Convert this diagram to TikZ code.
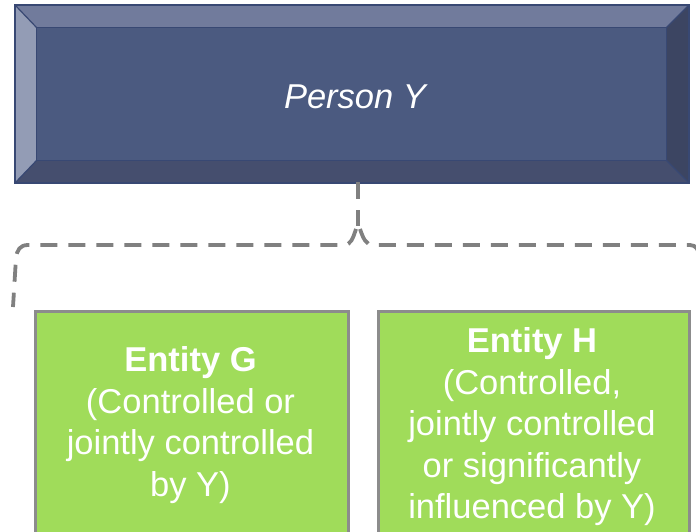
\documentclass[tikz,border=0pt]{standalone}
\usepackage{fontspec}
\setmainfont{Liberation Sans}
\definecolor{facecol}{RGB}{75,90,128}
\definecolor{bevtop}{RGB}{113,123,156}
\definecolor{bevleft}{RGB}{147,156,181}
\definecolor{bevbottom}{RGB}{69,78,110}
\definecolor{bevright}{RGB}{60,69,98}
\definecolor{bevline}{RGB}{56,72,115}
\definecolor{entgreen}{RGB}{160,220,90}
\definecolor{entborder}{RGB}{140,140,140}
\definecolor{conngray}{RGB}{128,128,128}
\begin{document}
\begin{tikzpicture}[x=1pt,y=-1pt,
  bevel/.style={draw=bevline,line width=1.2pt,line join=miter},
  entity/.style={draw=entborder,line width=3pt,fill=entgreen},
  etext/.style={text=white,align=center,font=\fontsize{34.5}{41.5}\selectfont},
  conn/.style={draw=conngray,line width=3.8pt,dash pattern=on 17pt off 11pt}]
\useasboundingbox (0,0) rectangle (696,532);
\clip (0,0) rectangle (696,532);

% bevelled box for the person
\node[fill=facecol,minimum width=629pt,minimum height=132pt,inner sep=0pt] (person) at (351.5,94) {};
\coordinate (ol) at (15,5); \coordinate (or) at (689,5);
\coordinate (ul) at (15,183); \coordinate (ur) at (689,183);
\fill[bevtop] (ol) -- (or) -- (person.north east) -- (person.north west) -- cycle;
\fill[bevleft] (ol) -- (person.north west) -- (person.south west) -- (ul) -- cycle;
\fill[bevbottom] (ul) -- (person.south west) -- (person.south east) -- (ur) -- cycle;
\fill[bevright] (or) -- (ur) -- (person.south east) -- (person.north east) -- cycle;
\draw[bevel] (ol) rectangle (ur);
\draw[bevel] (person.north west) rectangle (person.south east);
\draw[bevel] (ol) -- (person.north west) (or) -- (person.north east)
  (ul) -- (person.south west) (ur) -- (person.south east);
\node[text=white,font=\fontsize{34.5}{40}\selectfont\itshape] (persontext) at (355,97) {Person Y};

% entity boxes
\node[entity,minimum width=313pt,minimum height=240pt,anchor=north west] (g) at (34,310) {};
\node[entity,minimum width=311pt,minimum height=240pt,anchor=north west] (h) at (377,310) {};
\node[etext] (gt) at (190.5,425) {\textbf{Entity G}\\(Controlled or\\jointly controlled\\by Y)};
\node[etext] (ht) at (532,427) {\textbf{Entity H}\\(Controlled,\\jointly controlled\\or significantly\\influenced by Y)};

% dashed brace linking the person to both entities
\coordinate (tip) at (358,226);
\coordinate (lend) at (13,307);
\coordinate (rend) at (702,307);
\draw[conn] (person.south -| tip) ++(0,22) -- (tip);
\draw[conn] (tip) ++(-2,3) .. controls (353,238) and (351,245) .. (344,245) -- (28,245)
  .. controls (20,245) and (17,250) .. (16,258) -- (lend);
\draw[conn] (tip) ++(2,3) .. controls (363,238) and (366,245) .. (373,245) -- (690,245)
  .. controls (696,245) and (699,250) .. (700,258) -- (rend);
\end{tikzpicture}
\end{document}
